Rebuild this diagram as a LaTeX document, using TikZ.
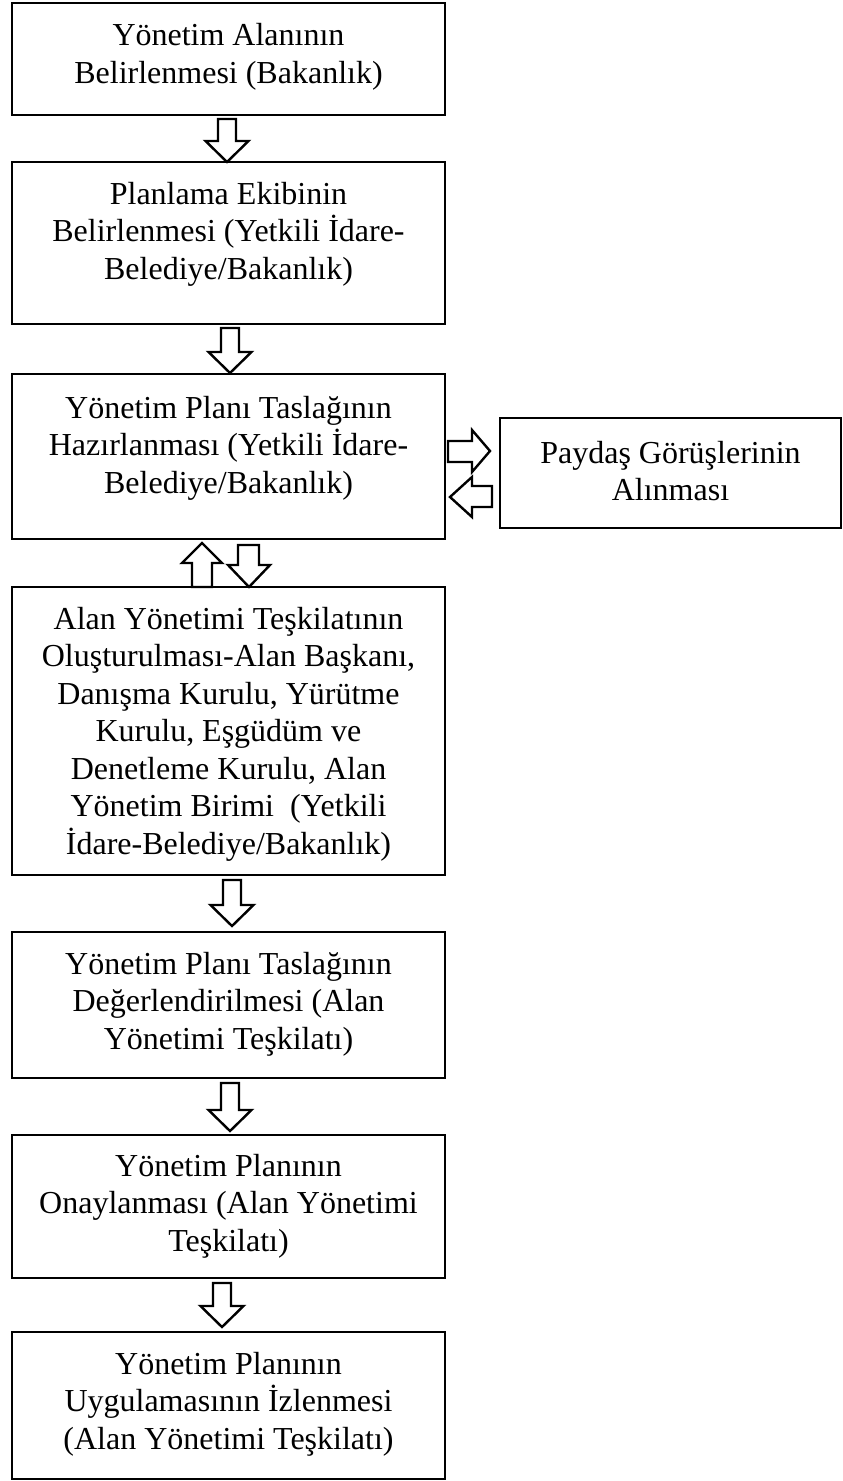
\documentclass[tikz,border=0pt]{standalone}
\usepackage{fontspec}
\setmainfont{Liberation Serif}
\begin{document}
\begin{tikzpicture}[x=1pt,y=-1pt,
  box/.style={draw=black,line width=2.8pt,inner sep=0pt,minimum width=433pt},
  txt/.style={align=center,inner sep=0pt,font=\fontsize{32pt}{37.5pt}\selectfont},
  blockarrow/.style={draw=black,line width=2.4pt,fill=white,line join=miter}]
\useasboundingbox (0,0) rectangle (843,1481);
\fill[white] (0,0) rectangle (843,1481);
% boxes
\node[box,minimum height=112pt] (b1) at (228.5,59) {};
\node[box,minimum height=162pt] (b2) at (228.5,243) {};
\node[box,minimum height=165pt] (b3) at (228.5,456.5) {};
\node[box,minimum width=341pt,minimum height=110pt] (br) at (670.5,473) {};
\node[box,minimum height=288pt] (b5) at (228.5,731) {};
\node[box,minimum height=146pt] (b6) at (228.5,1005) {};
\node[box,minimum height=143pt] (b7) at (228.5,1206.5) {};
\node[box,minimum height=147pt] (b8) at (228.5,1405.5) {};
% texts
\node[txt] (t1) at (228.5,57) {Yönetim Alanının\\Belirlenmesi (Bakanlık)};
\node[txt] (t2) at (228.5,234) {Planlama Ekibinin\\Belirlenmesi (Yetkili İdare-\\Belediye/Bakanlık)};
\node[txt] (t3) at (228.5,448) {Yönetim Planı Taslağının\\Hazırlanması (Yetkili İdare-\\Belediye/Bakanlık)};
\node[txt] (tr) at (670.5,471) {Paydaş Görüşlerinin\\Alınması};
\node[txt] (t5) at (228.5,734) {Alan Yönetimi Teşkilatının\\Oluşturulması-Alan Başkanı,\\Danışma Kurulu, Yürütme\\Kurulu, Eşgüdüm ve\\Denetleme Kurulu, Alan\\Yönetim Birimi~~(Yetkili\\İdare-Belediye/Bakanlık)};
\node[txt] (t6) at (228.5,1004) {Yönetim Planı Taslağının\\Değerlendirilmesi (Alan\\Yönetimi Teşkilatı)};
\node[txt] (t7) at (228.5,1206) {Yönetim Planının\\Onaylanması (Alan Yönetimi\\Teşkilatı)};
\node[txt] (t8) at (228.5,1404) {Yönetim Planının\\Uygulamasının İzlenmesi\\(Alan Yönetimi Teşkilatı)};
% down block arrows
\newcommand{\dnarrow}[3]{%
  \draw[blockarrow] (#1-9,#2) -- (#1+9,#2) -- (#1+9,#3-21) -- (#1+21.5,#3-21)
    -- (#1,#3) -- (#1-21.5,#3-21) -- (#1-9,#3-21) -- cycle;}
\dnarrow{227}{119}{162}
\dnarrow{230}{328}{373}
\dnarrow{232}{880}{926}
\dnarrow{230}{1083}{1131}
\dnarrow{222}{1283}{1327}
% between box 3 and box 5
\draw[blockarrow] (192,587) -- (212,587) -- (212,563) -- (222,563) -- (202,543)
  -- (182,563) -- (192,563) -- cycle;
\draw[blockarrow] (238,545) -- (259,545) -- (259,565) -- (270,565) -- (249,587)
  -- (228,565) -- (238,565) -- cycle;
% to and from right box
\draw[blockarrow] (448,441) -- (472,441) -- (472,430) -- (490,451) -- (472,472)
  -- (472,462) -- (448,462) -- cycle;
\draw[blockarrow] (492,486) -- (472,486) -- (472,477) -- (450,497) -- (472,517)
  -- (472,507) -- (492,507) -- cycle;
\end{tikzpicture}
\end{document}
